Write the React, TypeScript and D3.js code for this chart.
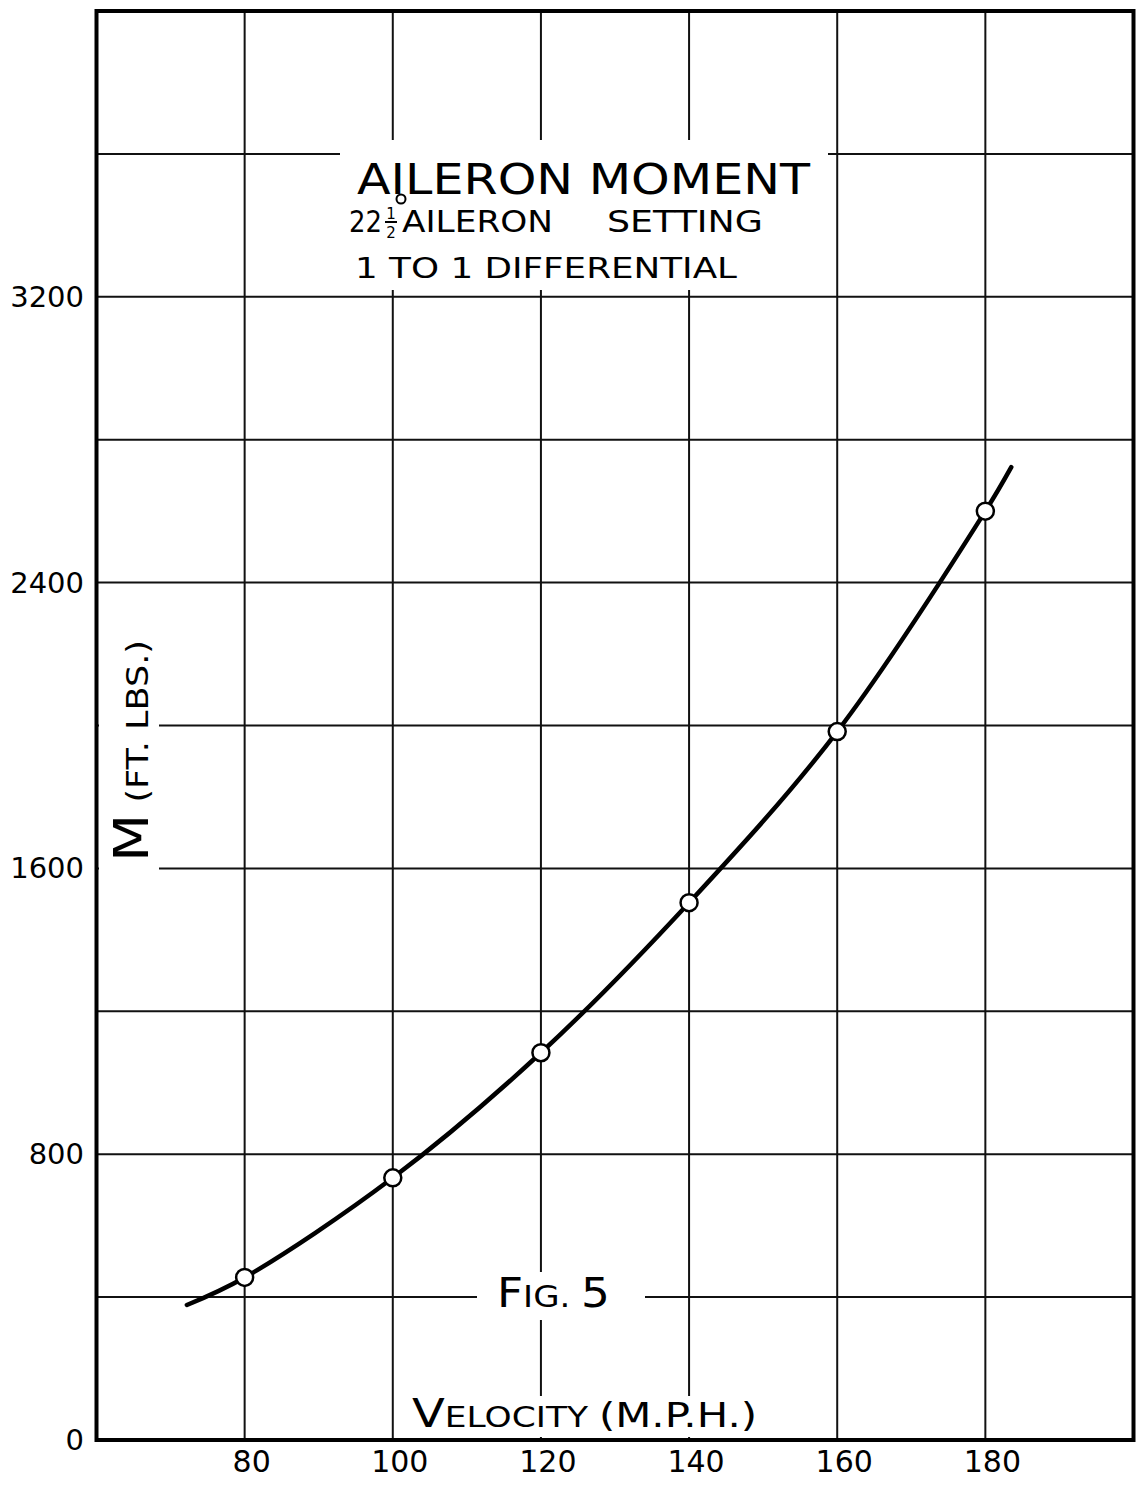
import React from 'react';
import * as d3 from 'd3';

const velocity = [80, 100, 120, 140, 160, 180];
const moment = [455, 734, 1084, 1504, 1983, 2600];

// faired curve, runs a little past the end points
const curveVelocity = [72.2, 80, 100, 120, 140, 160, 180, 183.5];
const curveMoment = [378, 455, 734, 1084, 1504, 1983, 2600, 2723];

const xTickValues = [80, 100, 120, 140, 160, 180];
const yTickValues = [0, 800, 1600, 2400, 3200];
const xGridValues = [80, 100, 120, 140, 160, 180];
const yGridValues = [400, 800, 1200, 1600, 2000, 2400, 2800, 3200, 3600];

const W = 1137, H = 1485;
const FONT = '"DejaVu Sans", "Liberation Sans", sans-serif';

const x = d3.scaleLinear().domain([60, 200]).range([96.5, 1133.5]);
const y = d3.scaleLinear().domain([0, 4000]).range([1440, 11]);

const App = () => {
  const line = d3.line<number>()
    .x((d, i) => x(curveVelocity[i]))
    .y(d => y(d))
    .curve(d3.curveCatmullRom.alpha(0.5));

  const [x0, x1] = x.range();
  const [y0, y1] = y.range();

  return (
    <div style={{ position: 'absolute', left: 0, top: 0 }}>
      <svg width={W} height={H} style={{ display: 'block', background: '#fff' }}>
        <rect x={0} y={0} width={W} height={H} fill="#fff" />

        {/* grid */}
        <g stroke="#111" strokeWidth={2}>
          {xGridValues.map(v => (
            <line key={'gx' + v} x1={x(v)} x2={x(v)} y1={y1} y2={y0} />
          ))}
          {yGridValues.map(v => (
            <line key={'gy' + v} x1={x0} x2={x1} y1={y(v)} y2={y(v)} />
          ))}
        </g>

        {/* gaps left in the grid for the lettering */}
        <g fill="#fff">
          <rect x={340} y={140} width={488} height={150} />
          <rect x={99} y={630} width={60} height={250} />
          <rect x={477} y={1272} width={168} height={48} />
          <rect x={405} y={1396} width={355} height={41} />
        </g>

        {/* frame */}
        <rect x={x0} y={y1} width={x1 - x0} height={y0 - y1}
          fill="none" stroke="#000" strokeWidth={4} />

        {/* curve */}
        <path d={line(curveMoment) || ''} fill="none" stroke="#000" strokeWidth={4.5} strokeLinecap="round" />

        {/* points */}
        {velocity.map((v, i) => (
          <circle key={'p' + v} cx={x(v)} cy={y(moment[i])} r={8.5}
            fill="#fff" stroke="#000" strokeWidth={2.5} />
        ))}

        <g fontFamily={FONT} fill="#000">
          {/* y tick labels */}
          {yTickValues.map(v => (
            <text key={'yt' + v} x={84} y={y(v) + 10} fontSize={29} textAnchor="end">{v}</text>
          ))}
          {/* x tick labels */}
          {xTickValues.map(v => (
            <text key={'xt' + v} x={x(v) + 7} y={1472} fontSize={30} textAnchor="middle">{v}</text>
          ))}

          {/* title block */}
          <text x={357} y={194} fontSize={42} textLength={453} lengthAdjust="spacingAndGlyphs">AILERON MOMENT</text>
          <text x={349} y={232} fontSize={30} textLength={33} lengthAdjust="spacingAndGlyphs">22</text>
          <text x={391} y={219} fontSize={15} textAnchor="middle">1</text>
          <line x1={385} x2={397} y1={222} y2={222} stroke="#000" strokeWidth={2} />
          <text x={391} y={238} fontSize={15} textAnchor="middle">2</text>
          <circle cx={401} cy={199} r={4.5} fill="none" stroke="#000" strokeWidth={2} />
          <text x={402} y={232} fontSize={30} textLength={151} lengthAdjust="spacingAndGlyphs">AILERON</text>
          <text x={607} y={232} fontSize={30} textLength={156} lengthAdjust="spacingAndGlyphs">SETTING</text>
          <text x={355} y={278} fontSize={28} textLength={382} lengthAdjust="spacingAndGlyphs">1 TO 1 DIFFERENTIAL</text>

          {/* figure number */}
          <text x={497} y={1307} textLength={113} lengthAdjust="spacingAndGlyphs">
            <tspan fontSize={40}>F</tspan>
            <tspan fontSize={30}>IG. </tspan>
            <tspan fontSize={40}>5</tspan>
          </text>

          {/* x axis title */}
          <text x={412} y={1427} textLength={345} lengthAdjust="spacingAndGlyphs">
            <tspan fontSize={39}>V</tspan>
            <tspan fontSize={28}>ELOCITY  </tspan>
            <tspan fontSize={34}>(M.P.H.)</tspan>
          </text>

          {/* y axis title */}
          <text transform="translate(148,862) rotate(-90)" textLength={222} lengthAdjust="spacingAndGlyphs">
            <tspan fontSize={48}>M</tspan>
            <tspan fontSize={30}> (FT. LBS.)</tspan>
          </text>
        </g>
      </svg>
    </div>
  );
};

export default App;
